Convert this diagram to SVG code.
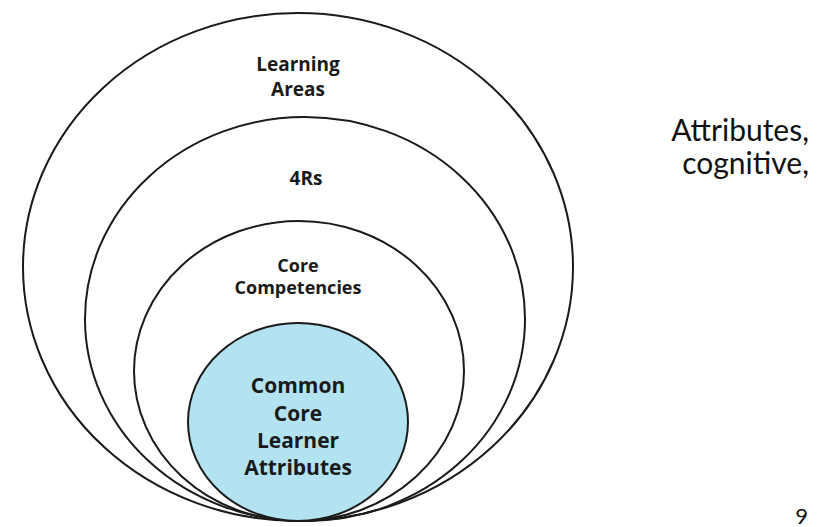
<svg xmlns="http://www.w3.org/2000/svg" width="828" height="527" viewBox="0 0 828 527">
<style>
.ring{fill:none;stroke:#1a1a1a;stroke-width:2}
.lbl{font-family:"Open Sans","DejaVu Sans",sans-serif;font-weight:700;fill:#1a1a1a;text-anchor:middle}
.side{font-family:"Lato","Liberation Sans",sans-serif;fill:#111;text-anchor:end}
</style>
<rect width="828" height="527" fill="#fff"/>
<g id="learning-areas">
<ellipse class="ring" cx="298" cy="267" rx="275" ry="254"/>
<text class="lbl" x="298" y="71" font-size="19">Learning</text>
<text class="lbl" x="298" y="96" font-size="19">Areas</text>
</g>
<g id="four-rs">
<ellipse class="ring" cx="305" cy="319" rx="220" ry="202"/>
<text class="lbl" x="306" y="185" font-size="19">4Rs</text>
</g>
<g id="core-competencies">
<ellipse class="ring" cx="299" cy="371" rx="165" ry="150"/>
<text class="lbl" x="298" y="272" font-size="18">Core</text>
<text class="lbl" x="298" y="294" font-size="18">Competencies</text>
</g>
<g id="cocla">
<ellipse cx="298" cy="422" rx="110" ry="99" fill="#b3e3f0" stroke="#1a1a1a" stroke-width="2"/>
<text class="lbl" x="298" y="393" font-size="21">Common</text>
<text class="lbl" x="298" y="421" font-size="21">Core</text>
<text class="lbl" x="298" y="448" font-size="21">Learner</text>
<text class="lbl" x="298" y="475" font-size="21">Attributes</text>
</g>
<g id="connectors"></g>
<text class="side" x="809" y="141" font-size="30">Attributes,</text>
<text class="side" x="809" y="174" font-size="30">cognitive,</text>
<text class="side" x="808" y="524" font-size="22">9</text>
</svg>
